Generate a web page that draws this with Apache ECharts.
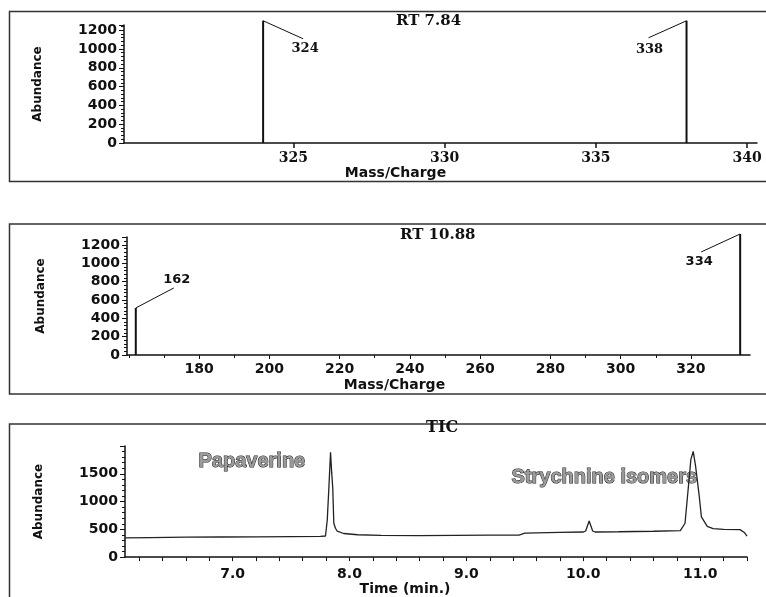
<!DOCTYPE html>
<html>
<head>
<meta charset="utf-8">
<title>GC-MS</title>
<script src="https://cdn.jsdelivr.net/npm/echarts@6/dist/echarts.min.js"></script>
<style>
  html, body { margin: 0; padding: 0; background: #fff; }
  #chart { width: 766px; height: 597px; }
</style>
</head>
<body>
<div id="chart"></div>
<script>
  // mass spectrum at RT 7.84
  var rt784Mz = [324, 338];
  var rt784Abund = [1300, 1300];
  var rt784Ticks = [325, 330, 335, 340];

  // mass spectrum at RT 10.88
  var rt1088Mz = [162, 334];
  var rt1088Abund = [513, 1320];
  var rt1088Ticks = [180, 200, 220, 240, 260, 280, 300, 320];

  // total ion chromatogram
  var ticTime = [6.08, 6.3, 6.6, 6.9, 7.2, 7.5, 7.75, 7.795, 7.81, 7.825, 7.838, 7.848, 7.857, 7.866, 7.88, 7.895, 7.95, 8.07, 8.27, 8.6, 8.9, 9.2, 9.45, 9.5, 9.6, 9.8, 10.0, 10.02, 10.05, 10.08, 10.1, 10.3, 10.6, 10.83, 10.87, 10.9, 10.92, 10.94, 10.96, 10.99, 11.01, 11.06, 11.11, 11.2, 11.34, 11.38, 11.4];
  var ticAbund = [345, 352, 358, 362, 365, 370, 372, 380, 667, 1300, 1885, 1520, 1241, 609, 520, 466, 425, 402, 391, 388, 391, 394, 397, 430, 437, 445, 452, 470, 650, 470, 452, 456, 465, 475, 609, 1299, 1759, 1902, 1643, 1126, 724, 552, 512, 500, 494, 437, 379];
  var ticLabels = [7.0, 8.0, 9.0, 10.0, 11.0];

  // minor time ticks every 0.2 min
  var ticTicks = [];
  for (var k = 31; k <= 57; k++) ticTicks.push(Math.round(k * 2) / 10);

  // leader line end (lx, ly) and label centre (tx, ty), px from peak top
  var peakOffsets = {
    rt784: [{lx: 40, ly: 18, tx: 42, ty: 28}, {lx: -38, ly: 17, tx: -37, ty: 29}],
    rt1088: [{lx: 38, ly: -20, tx: 41, ty: -28}, {lx: -39, ly: 18, tx: -41, ty: 28}]
  };

  var SANS = 'DejaVu Sans';
  var SERIF = 'DejaVu Serif';

  function stickRenderer(offsets, font) {
    return function (params, api) {
      var mz = api.value(0);
      var base = api.coord([mz, 0]);
      var top = api.coord([mz, api.value(1)]);
      var o = offsets[params.dataIndex];
      return {
        type: 'group',
        children: [
          {type: 'line', shape: {x1: base[0], y1: base[1], x2: top[0], y2: top[1]}, style: {stroke: '#111', lineWidth: 2}},
          {type: 'line', shape: {x1: top[0], y1: top[1], x2: top[0] + o.lx, y2: top[1] + o.ly}, style: {stroke: '#111', lineWidth: 1}},
          {type: 'text', x: top[0] + o.tx, y: top[1] + o.ty,
            style: {text: String(mz), font: font, fill: '#111', align: 'center', verticalAlign: 'middle'}}
        ]
      };
    };
  }

  function yAxisOf(idx, max, interval, minor) {
    return {
      type: 'value', gridIndex: idx, min: 0, max: max, interval: interval,
      name: 'Abundance', nameLocation: 'middle', nameGap: 80,
      nameTextStyle: {fontFamily: SANS, fontWeight: 'bold', fontSize: 12, color: '#111'},
      axisLine: {show: true, lineStyle: {color: '#111', width: 1.5}},
      axisTick: {show: true, length: 5, lineStyle: {color: '#111'}},
      minorTick: {show: true, splitNumber: minor, length: 3, lineStyle: {color: '#111'}},
      axisLabel: {fontFamily: SANS, fontWeight: 'bold', fontSize: 14, color: '#111', margin: 7, showMaxLabel: false,
        formatter: function (v) { return String(v); }},
      splitLine: {show: false}
    };
  }

  var chart = echarts.init(document.getElementById('chart'));

  chart.setOption({
    animation: false,
    backgroundColor: '#fff',
    title: [
      {text: 'RT 7.84', left: 396, top: 14, padding: 0, textStyle: {fontFamily: SERIF, fontWeight: 'bold', fontSize: 15, color: '#111'}},
      {text: 'RT 10.88', left: 400, top: 228, padding: 0, textStyle: {fontFamily: SERIF, fontWeight: 'bold', fontSize: 15, color: '#111'}},
      {text: 'TIC', left: 426, top: 420, padding: 0, textStyle: {fontFamily: SERIF, fontWeight: 'bold', fontSize: 16, color: '#111'}}
    ],
    grid: [
      {left: 124, right: 9, top: 25, bottom: 454},
      {left: 127, right: 16, top: 237, bottom: 242},
      {left: 125, right: 19, top: 446, bottom: 35}
    ],
    xAxis: [
      {
        type: 'value', gridIndex: 0, min: 319.4, max: 340.33,
        name: 'Mass/Charge', nameLocation: 'middle', nameGap: 23,
        nameTextStyle: {fontFamily: SANS, fontWeight: 'bold', fontSize: 14, color: '#111', padding: [0, 90, 0, 0]},
        axisLine: {lineStyle: {color: '#111', width: 1.5}},
        axisTick: {customValues: rt784Ticks, length: 5, lineStyle: {color: '#111', width: 1.5}},
        axisLabel: {customValues: rt784Ticks, fontFamily: SERIF, fontWeight: 'bold', fontSize: 14, color: '#111', margin: 8},
        splitLine: {show: false}
      },
      {
        type: 'value', gridIndex: 1, min: 159.5, max: 336.8,
        name: 'Mass/Charge', nameLocation: 'middle', nameGap: 23,
        nameTextStyle: {fontFamily: SANS, fontWeight: 'bold', fontSize: 14, color: '#111', padding: [0, 88, 0, 0]},
        axisLine: {lineStyle: {color: '#111', width: 1.5}},
        axisTick: {customValues: rt1088Ticks, length: 4, lineStyle: {color: '#111'}},
        minorTick: {show: true, splitNumber: 3, length: 3, lineStyle: {color: '#111'}},
        axisLabel: {customValues: rt1088Ticks, fontFamily: SANS, fontWeight: 'bold', fontSize: 14, color: '#111', margin: 7},
        splitLine: {show: false}
      },
      {
        type: 'value', gridIndex: 2, min: 6.08, max: 11.4,
        name: 'Time (min.)', nameLocation: 'middle', nameGap: 19,
        nameTextStyle: {fontFamily: SANS, fontWeight: 'bold', fontSize: 14, color: '#111', padding: [0, 62, 0, 0]},
        axisLine: {lineStyle: {color: '#111', width: 1.5}},
        axisTick: {customValues: ticTicks, length: 4, lineStyle: {color: '#111'}},
        axisLabel: {customValues: ticLabels, fontFamily: SANS, fontWeight: 'bold', fontSize: 14, color: '#111', margin: 10,
          formatter: function (v) { return v.toFixed(1); }},
        splitLine: {show: false}
      }
    ],
    yAxis: [
      yAxisOf(0, 1255, 200, 5),
      yAxisOf(1, 1287, 200, 5),
      yAxisOf(2, 2000, 500, 5)
    ],
    series: [
      {
        type: 'custom', xAxisIndex: 0, yAxisIndex: 0, clip: false,
        renderItem: stickRenderer(peakOffsets.rt784, 'bold 13px "DejaVu Serif"'),
        data: rt784Mz.map(function (m, i) { return [m, rt784Abund[i]]; })
      },
      {
        type: 'custom', xAxisIndex: 1, yAxisIndex: 1, clip: false,
        renderItem: stickRenderer(peakOffsets.rt1088, 'bold 13px "DejaVu Sans"'),
        data: rt1088Mz.map(function (m, i) { return [m, rt1088Abund[i]]; })
      },
      {
        type: 'line', xAxisIndex: 2, yAxisIndex: 2, showSymbol: false,
        lineStyle: {color: '#222', width: 1.3},
        data: ticTime.map(function (t, i) { return [t, ticAbund[i]]; })
      }
    ],
    graphic: [
      {type: 'rect', z: -1, shape: {x: 9.5, y: 11.5, width: 770, height: 170}, style: {fill: 'none', stroke: '#333', lineWidth: 1.5}},
      {type: 'rect', z: -1, shape: {x: 9.5, y: 224, width: 770, height: 170}, style: {fill: 'none', stroke: '#333', lineWidth: 1.5}},
      {type: 'rect', z: -1, shape: {x: 9.5, y: 424, width: 770, height: 200}, style: {fill: 'none', stroke: '#333', lineWidth: 1.5}},
      {type: 'text', left: 198, top: 451, style: {text: 'Papaverine', font: 'bold 20px "Liberation Sans"', fill: '#9a9a9a', stroke: '#222', lineWidth: 1}},
      {type: 'text', left: 511, top: 467, style: {text: 'Strychnine isomers', font: 'bold 20px "Liberation Sans"', fill: '#9a9a9a', stroke: '#222', lineWidth: 1}}
    ]
  });
</script>
</body>
</html>
